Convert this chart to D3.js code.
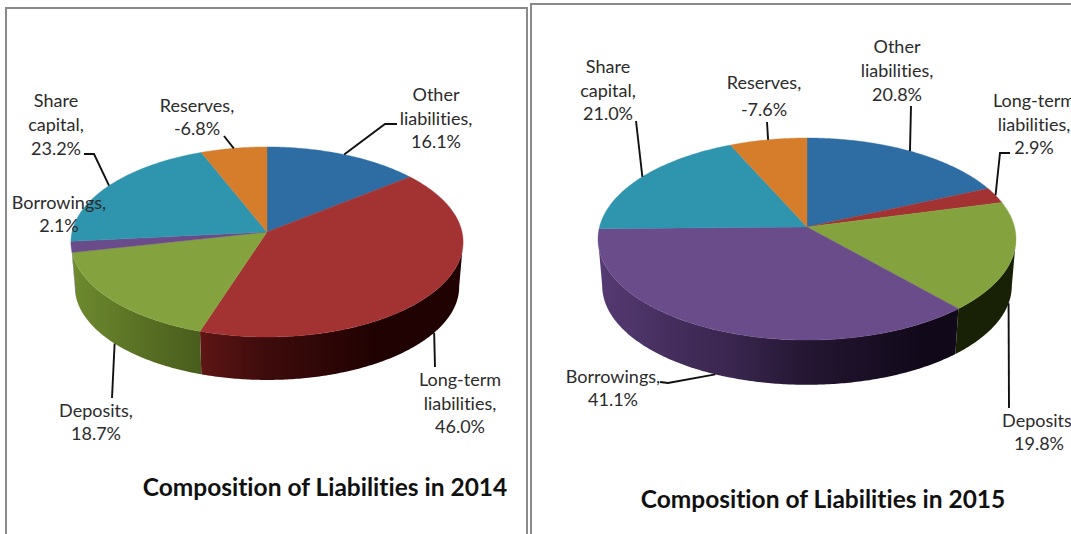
<!DOCTYPE html>
<html>
<head>
<meta charset="utf-8">
<script src="https://cdn.jsdelivr.net/npm/d3@7"></script>
<style>
  html, body { margin: 0; padding: 0; background: #fff; overflow: hidden; }
  svg { display: block; }
  text { font-variant-ligatures: none; }
</style>
</head>
<body>
<script>
// slices run clockwise from 12 o'clock
const categories = ['Other liabilities', 'Long-term liabilities', 'Deposits', 'Borrowings', 'Share capital', 'Reserves'];
const values2014 = [16.1, 46.0, 18.7, 2.1, 23.2, -6.8];
const values2015 = [20.8, 2.9, 19.8, 41.1, 21.0, -7.6];
const sliceColors = ['#2e6ca4', '#a33333', '#84a33f', '#6a4c8a', '#2f94ae', '#d67d2b'];

// how each category name breaks over the label lines
const labelLines2014 = [['Other', 'liabilities,'], ['Long-term', 'liabilities,'], ['Deposits,'], ['Borrowings,'], ['Share', 'capital,'], ['Reserves,']];
const labelLines2015 = [['Other', 'liabilities,'], ['Long-term', 'liabilities,'], ['Deposits,'], ['Borrowings,'], ['Share', 'capital,'], ['Reserves,']];

const width = 1071;
const height = 534;

// Window stuff: one entry per pie
const layout2014 = {
  id: 'a', title: 'Composition of Liabilities in 2014', titleX: 325, titleY: 496,
  cx: 267, cy: 232, rx: 195, ry: 94, k: 0.105, depth: 45,
  labelX: [436, 460, 96, 59, 56, 197],
  labelY: [101, 386, 417, 209, 107, 112],
  lineGap: [23.5, 23.5, 23, 23, 24, 23],
  // leader bend points, the start is worked out from the slice
  leaders: [[[385, 124], [397, 124]], [[435, 367]], [[112, 398]], null, [[94, 154], [84, 154]], [[224, 136]]]
};
const layout2015 = {
  id: 'b', title: 'Composition of Liabilities in 2015', titleX: 823, titleY: 508,
  cx: 807, cy: 227, rx: 207.5, ry: 99.6, k: 0.119, depth: 47,
  labelX: [897, 1034, 1039, 613, 608, 764],
  labelY: [53, 107, 427, 383, 73, 89],
  lineGap: [24, 23.5, 23, 23, 23.5, 27],
  leaders: [[[911, 106]], [[1000, 153], [1010, 153]], [[1009, 408]], [[668, 383], [660, 382]], [[636, 121]], [[767, 122]]]
};

const svg = d3.select('body').append('svg')
  .attr('width', width)
  .attr('height', height)
  .attr('font-family', 'Lato, "Open Sans", sans-serif');

const defs = svg.append('defs');
svg.append('rect').attr('width', width).attr('height', height).attr('fill', '#fff');

// frames around the two pasted charts
const frame = d3.line();
svg.append('path')
  .attr('d', frame([[6, height], [6, 8], [527, 8], [527, height]]))
  .attr('fill', 'none').attr('stroke', '#8a8a8a').attr('stroke-width', 2);
svg.append('path')
  .attr('d', frame([[531, height], [531, 4], [width, 4]]))
  .attr('fill', 'none').attr('stroke', '#8a8a8a').attr('stroke-width', 2);

// side wall lighting by rim angle (degrees clockwise from top)
const wallLight = d3.scaleLinear()
  .domain([90, 150, 180, 198, 230, 270])
  .range([0.27, 0.27, 0.45, 0.65, 0.85, 0.98])
  .clamp(true);

function wallColor(base, deg) {
  const c = d3.rgb(base), f = wallLight(deg);
  return d3.rgb(c.r * f - 12, c.g * f - 12, c.b * f - 12).clamp().formatHex();
}

function drawPie(values, labelLines, L) {
  const g = svg.append('g');
  const pie = d3.pie().sort(null).value(d => Math.abs(d));
  const arcs = pie(values);

  // perspective projection of a rim point; scale/drop give the lower rim
  const rim = (a, scale = 1, drop = 0) => {
    const u = Math.sin(a), v = Math.cos(a), w = 1 + L.k * v;
    return [L.cx + L.rx * scale * u / w, L.cy + drop - L.ry * scale * v / w];
  };
  const sample = (a0, a1) => d3.range(0, 1.0001, 1 / Math.max(2, Math.ceil((a1 - a0) * 90)))
    .map(t => a0 + (a1 - a0) * t);
  const line = d3.line();

  // walls, only the part of the rim that faces us
  const front0 = Math.acos(-L.k), front1 = 2 * Math.PI - front0;
  arcs.forEach((d, i) => {
    const a0 = Math.max(d.startAngle, front0), a1 = Math.min(d.endAngle, front1);
    if (a1 <= a0) return;
    const pts = sample(a0, a1);
    const x0 = rim(a0)[0], x1 = rim(a1)[0];
    const grad = defs.append('linearGradient')
      .attr('id', 'wall-' + L.id + i)
      .attr('gradientUnits', 'userSpaceOnUse')
      .attr('x1', x0).attr('x2', x1).attr('y1', 0).attr('y2', 0);
    pts.forEach(a => {
      grad.append('stop')
        .attr('offset', (rim(a)[0] - x0) / (x1 - x0))
        .attr('stop-color', wallColor(sliceColors[i], a * 180 / Math.PI));
    });
    const upper = pts.map(a => rim(a));
    const lower = pts.slice().reverse().map(a => rim(a, 0.98, L.depth));
    g.append('path')
      .attr('d', line(upper.concat(lower)) + 'Z')
      .attr('fill', 'url(#wall-' + L.id + i + ')');
  });

  // top face
  arcs.forEach((d, i) => {
    const pts = [[L.cx, L.cy]].concat(sample(d.startAngle, d.endAngle).map(a => rim(a)));
    g.append('path')
      .attr('d', line(pts) + 'Z')
      .attr('fill', sliceColors[i])
      .attr('stroke', sliceColors[i])
      .attr('stroke-width', 0.4);
  });

  // leader lines start at the middle of the slice
  arcs.forEach((d, i) => {
    if (!L.leaders[i]) return;
    const mid = (d.startAngle + d.endAngle) / 2;
    const onWall = Math.cos(mid) < -0.2;
    const start = onWall ? rim(mid, 0.98, L.depth) : rim(mid);
    g.append('path')
      .attr('d', line([start].concat(L.leaders[i])))
      .attr('fill', 'none')
      .attr('stroke', '#111')
      .attr('stroke-width', 1.9);
  });

  // labels
  values.forEach((v, i) => {
    const lines = labelLines[i].concat([v.toFixed(1) + '%']);
    const t = g.append('text')
      .attr('text-anchor', 'middle')
      .attr('font-size', 18)
      .attr('fill', '#2b2b2b');
    lines.forEach((s, j) => {
      t.append('tspan')
        .attr('x', L.labelX[i])
        .attr('y', L.labelY[i] + j * L.lineGap[i])
        .text(s);
    });
  });

  g.append('text')
    .attr('x', L.titleX)
    .attr('y', L.titleY)
    .attr('text-anchor', 'middle')
    .attr('font-size', 24.5)
    .attr('font-weight', 700)
    .attr('fill', '#111')
    .text(L.title);
}

drawPie(values2014, labelLines2014, layout2014);
drawPie(values2015, labelLines2015, layout2015);
</script>
</body>
</html>
